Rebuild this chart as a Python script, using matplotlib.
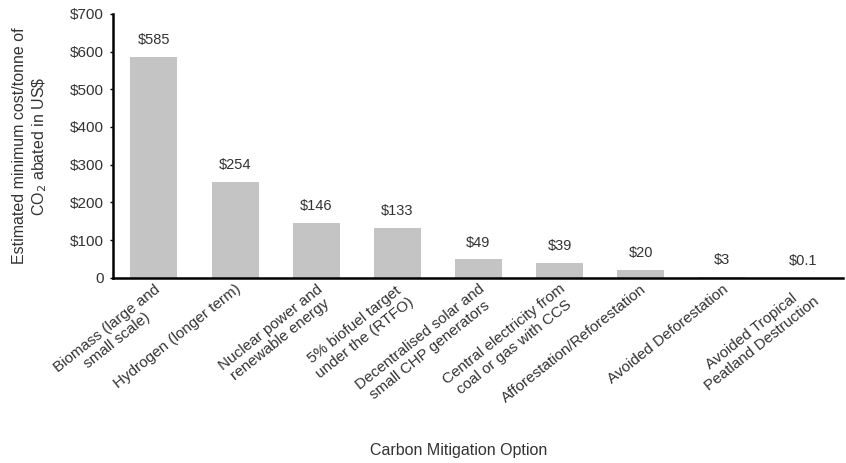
import numpy as np
import matplotlib.pyplot as plt

plt.rcParams['font.family'] = ['Liberation Sans', 'DejaVu Sans']

options = [
    "Biomass (large and\nsmall scale)",
    "Hydrogen (longer term)",
    "Nuclear power and\nrenewable energy",
    "5% biofuel target\nunder the (RTFO)",
    "Decentralised solar and\nsmall CHP generators",
    "Central electricity from\ncoal or gas with CCS",
    "Afforestation/Reforestation",
    "Avoided Deforestation",
    "Avoided Tropical\nPeatland Destruction",
]
costs = [585, 254, 146, 133, 49, 39, 20, 3, 0.1]
cost_labels = ["$585", "$254", "$146", "$133", "$49", "$39", "$20", "$3", "$0.1"]
yticks = [0, 100, 200, 300, 400, 500, 600, 700]
ytick_labels = ["0", "$100", "$200", "$300", "$400", "$500", "$600", "$700"]

fig, ax = plt.subplots(figsize=(8.46, 4.63), dpi=100)
fig.subplots_adjust(left=0.134, right=0.997, top=0.97, bottom=0.40)

x = np.arange(len(options))
ax.bar(x, costs, width=0.58, color="#c4c4c4", edgecolor="none")
for xi, c, lab in zip(x, costs, cost_labels):
    ax.text(xi, c + 26, lab, ha="center", va="bottom", fontsize=10.5, color="#333333")

ax.set_xlim(-0.5, len(options) - 0.5)
ax.set_ylim(0, 700)
ax.set_yticks(yticks)
ax.set_yticklabels(ytick_labels, fontsize=11, color="#333333")
ax.set_xticks(x)
ax.set_xticklabels(options, rotation=38.5, ha="right", rotation_mode="anchor",
                   fontsize=11, color="#333333", multialignment="center",
                   linespacing=1.2)
ax.tick_params(axis="x", length=0, pad=3)
ax.tick_params(axis="y", length=2, width=1, pad=5)

for s in ["top", "right"]:
    ax.spines[s].set_visible(False)
ax.spines["left"].set_linewidth(1.8)
ax.spines["bottom"].set_linewidth(1.8)

ax.set_ylabel("Estimated minimum cost/tonne of\nCO$_2$ abated in US\\$", fontsize=11.5,
              color="#333333", labelpad=15)
ax.set_xlabel("Carbon Mitigation Option", fontsize=11.5, color="#333333")
ax.xaxis.set_label_coords(0.473, -0.625)

fig.savefig("out.png")
